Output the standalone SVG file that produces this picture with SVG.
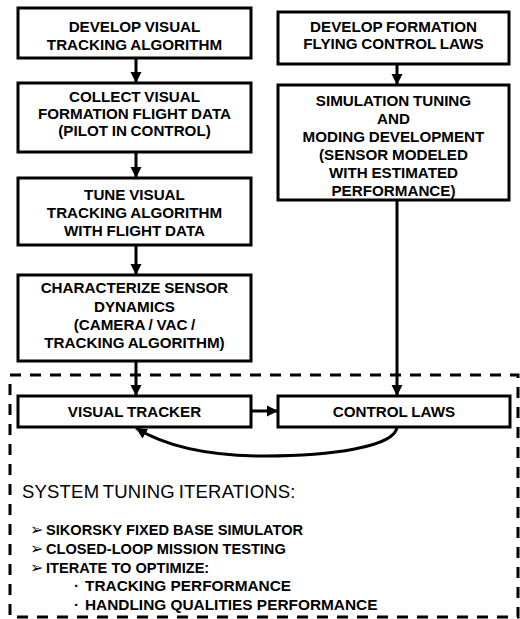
<svg xmlns="http://www.w3.org/2000/svg" width="520" height="619" viewBox="0 0 520 619">
<style>
.box{fill:#fff;stroke:#000;stroke-width:3}
.t{font-family:"Liberation Sans",Arial,sans-serif;font-weight:bold;font-size:15.2px;text-anchor:middle;fill:#000;word-spacing:-0.5px}
.b{font-family:"Liberation Sans",Arial,sans-serif;font-weight:bold;font-size:14.6px;fill:#000}
.s{font-family:"Liberation Sans",Arial,sans-serif;font-weight:bold;font-size:15.4px;fill:#000}
.h{font-family:"Liberation Sans",Arial,sans-serif;font-size:18.5px;fill:#000;letter-spacing:0.2px;word-spacing:-1.5px}
.c{fill:none;stroke:#000;stroke-width:3}
.d{fill:none;stroke:#000;stroke-width:3;stroke-dasharray:11 9}
.sym{font-family:"DejaVu Sans",sans-serif;font-size:16px;fill:#000}
</style>
<defs>
<marker id="ah" viewBox="0 0 10 10" refX="10" refY="5" markerWidth="11" markerHeight="15" markerUnits="userSpaceOnUse" orient="auto">
<path d="M0,0 L10,5 L0,10 z" fill="#000"/>
</marker>
</defs>
<rect class="d" x="10" y="375" width="508" height="242"/>
<g id="connectors">
<line class="c" x1="136" y1="58" x2="136" y2="83" marker-end="url(#ah)"/>
<line class="c" x1="136" y1="152" x2="136" y2="178" marker-end="url(#ah)"/>
<line class="c" x1="136" y1="245" x2="136" y2="275" marker-end="url(#ah)"/>
<line class="c" x1="136" y1="361" x2="136" y2="396" marker-end="url(#ah)"/>
<line class="c" x1="397" y1="64" x2="397" y2="85" marker-end="url(#ah)"/>
<line class="c" x1="397" y1="200" x2="397" y2="396" marker-end="url(#ah)"/>
<line class="c" x1="251" y1="411" x2="278" y2="411" marker-end="url(#ah)"/>
<path class="c" d="M397,427 C395,447 330,456 265,456 C205,456 165,446 136,428" marker-end="url(#ah)"/>
</g>
<g id="n1"><rect class="box" x="18" y="8" width="233" height="50"/>
<text class="t" x="134.5" y="32">DEVELOP VISUAL</text><text class="t" x="134.5" y="50">TRACKING ALGORITHM</text></g>
<g id="n2"><rect class="box" x="18" y="83" width="233" height="69"/>
<text class="t" x="134.5" y="102">COLLECT VISUAL</text><text class="t" x="134.5" y="119">FORMATION FLIGHT DATA</text><text class="t" x="134.5" y="136">(PILOT IN CONTROL)</text></g>
<g id="n3"><rect class="box" x="18" y="178" width="233" height="67"/>
<text class="t" x="134.5" y="200">TUNE VISUAL</text><text class="t" x="134.5" y="218">TRACKING ALGORITHM</text><text class="t" x="134.5" y="236">WITH FLIGHT DATA</text></g>
<g id="n4"><rect class="box" x="18" y="275" width="233" height="86"/>
<text class="t" x="134.5" y="293">CHARACTERIZE SENSOR</text><text class="t" x="134.5" y="312">DYNAMICS</text><text class="t" x="134.5" y="330">(CAMERA / VAC /</text><text class="t" x="134.5" y="348">TRACKING ALGORITHM)</text></g>
<g id="r1"><rect class="box" x="278" y="12" width="231" height="52"/>
<text class="t" x="393.5" y="32">DEVELOP FORMATION</text><text class="t" x="393.5" y="49">FLYING CONTROL LAWS</text></g>
<g id="r2"><rect class="box" x="278" y="85" width="231" height="115"/>
<text class="t" x="393.5" y="106">SIMULATION TUNING</text><text class="t" x="393.5" y="124">AND</text><text class="t" x="393.5" y="142">MODING DEVELOPMENT</text><text class="t" x="393.5" y="160">(SENSOR MODELED</text><text class="t" x="393.5" y="178">WITH ESTIMATED</text><text class="t" x="393.5" y="196">PERFORMANCE)</text></g>
<g id="vt"><rect class="box" x="18" y="396" width="233" height="31"/>
<text class="t" x="134.5" y="417">VISUAL TRACKER</text></g>
<g id="cl"><rect class="box" x="278" y="396" width="232" height="31"/>
<text class="t" x="394" y="417">CONTROL LAWS</text></g>
<g id="notes">
<text class="h" x="22" y="498">SYSTEM TUNING ITERATIONS:</text>
<text class="sym" x="30" y="535">➢</text><text class="b" x="46" y="535">SIKORSKY FIXED BASE SIMULATOR</text>
<text class="sym" x="30" y="554">➢</text><text class="b" x="46" y="554">CLOSED-LOOP MISSION TESTING</text>
<text class="sym" x="30" y="573">➢</text><text class="b" x="46" y="573">ITERATE TO OPTIMIZE:</text>
<text class="s" x="74" y="591">·</text><text class="s" x="85" y="591">TRACKING PERFORMANCE</text>
<text class="s" x="74" y="610">·</text><text class="s" x="85" y="610">HANDLING QUALITIES PERFORMANCE</text>
</g>
</svg>
